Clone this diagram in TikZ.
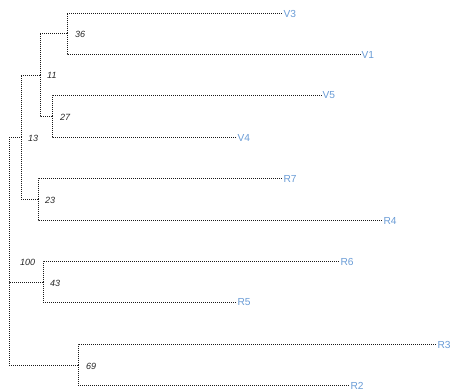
\documentclass[tikz,border=0pt]{standalone}
\usepackage{fontspec}
\setmainfont{Liberation Sans}
\definecolor{leafblue}{HTML}{6A9CD6}
\definecolor{edgegray}{HTML}{1A1A1A}
\begin{document}
\begin{tikzpicture}[x=1pt,y=-1pt,
  edge/.style={draw=edgegray,line width=0.7pt,dash pattern=on 1pt off 1pt},
  leaflab/.style={anchor=west,inner sep=0.3pt,yshift=-0.5pt,text=leafblue,font=\fontsize{10.2}{11}\selectfont},
  supp/.style={anchor=west,inner sep=0pt,text=black!85,font=\itshape\fontsize{9}{10}\selectfont}]
\useasboundingbox (0,0) rectangle (451,391);
% internal nodes
\coordinate (root) at (9,137);
\coordinate (n13) at (21,137);
\coordinate (n11) at (40,75);
\coordinate (n36) at (67,33);
\coordinate (n27) at (52,116);
\coordinate (n23) at (38,199);
\coordinate (n43) at (43,282);
\coordinate (n69) at (78,365);
% leaves
\coordinate (V3) at (283,13);
\coordinate (V1) at (361,54);
\coordinate (V5) at (322,95);
\coordinate (V4) at (237,137);
\coordinate (R7) at (283,178);
\coordinate (R4) at (383,220);
\coordinate (R6) at (340,261);
\coordinate (R5) at (237,302);
\coordinate (R3) at (437,344);
\coordinate (R2) at (350,385);
% edges
\draw[edge] (root) |- (n13);
\draw[edge] (root) |- (n43);
\draw[edge] (root) |- (n69);
\draw[edge] (n13) |- (n11);
\draw[edge] (n13) |- (n23);
\draw[edge] (n11) |- (n36);
\draw[edge] (n11) |- (n27);
\draw[edge] (n36) |- (V3);
\draw[edge] (n36) |- (V1);
\draw[edge] (n27) |- (V5);
\draw[edge] (n27) |- (V4);
\draw[edge] (n23) |- (R7);
\draw[edge] (n23) |- (R4);
\draw[edge] (n43) |- (R6);
\draw[edge] (n43) |- (R5);
\draw[edge] (n69) |- (R3);
\draw[edge] (n69) |- (R2);
% leaf labels
\node[leaflab] (lV3) at (V3) {V3};
\node[leaflab] (lV1) at (V1) {V1};
\node[leaflab] (lV5) at (V5) {V5};
\node[leaflab] (lV4) at (V4) {V4};
\node[leaflab] (lR7) at (R7) {R7};
\node[leaflab] (lR4) at (R4) {R4};
\node[leaflab] (lR6) at (R6) {R6};
\node[leaflab] (lR5) at (R5) {R5};
\node[leaflab] (lR3) at (R3) {R3};
\node[leaflab] (lR2) at (R2) {R2};
% support values
\node[supp] (s36) at (75,34) {36};
\node[supp] (s11) at (47,75) {11};
\node[supp] (s27) at (60,117) {27};
\node[supp] (s13) at (28,138) {13};
\node[supp] (s23) at (45,200) {23};
\node[supp] (s100) at (20,262) {100};
\node[supp] (s43) at (50,283) {43};
\node[supp] (s69) at (86,366) {69};
\end{tikzpicture}
\end{document}
